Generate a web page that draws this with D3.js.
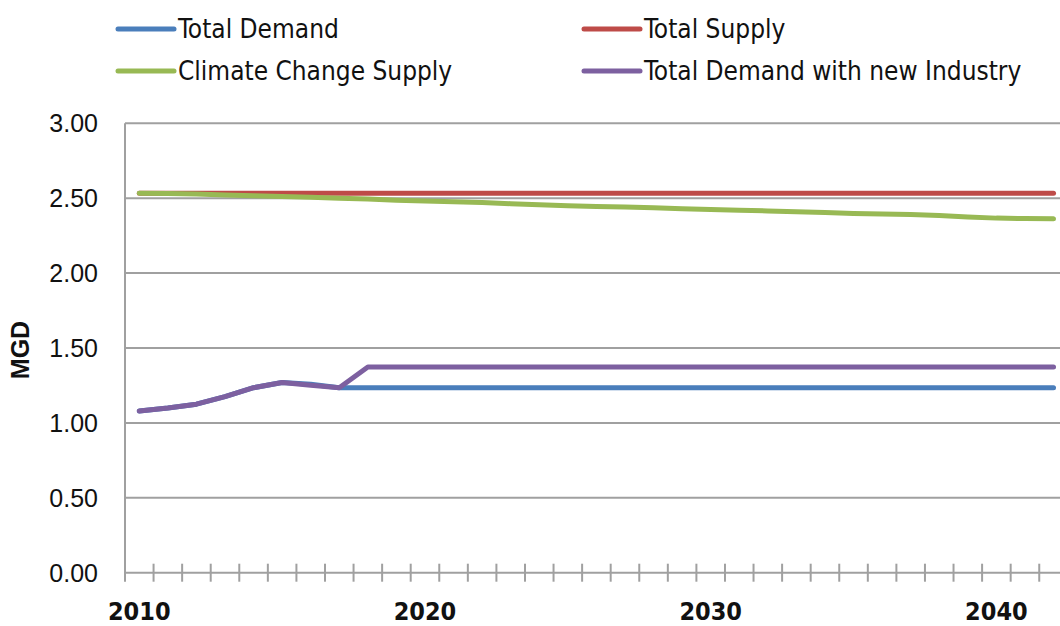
<!DOCTYPE html>
<html>
<head>
<meta charset="utf-8">
<script src="https://cdn.jsdelivr.net/npm/d3@7"></script>
<style>
  html, body { margin: 0; padding: 0; background: #fff; }
  svg { display: block; }
</style>
</head>
<body>
<svg id="chart" width="1060" height="626"></svg>
<script>
(function() {
    // chart values
    var years = d3.range(2010, 2043);
    var yearLabels = [2010, 2020, 2030, 2040];

    var totalDemand = [1.08, 1.10, 1.125, 1.175, 1.235, 1.27, 1.258, 1.235, 1.235, 1.235,
        1.235, 1.235, 1.235, 1.235, 1.235, 1.235, 1.235, 1.235, 1.235, 1.235,
        1.235, 1.235, 1.235, 1.235, 1.235, 1.235, 1.235, 1.235, 1.235, 1.235,
        1.235, 1.235, 1.235];
    var totalSupply = [2.533, 2.533, 2.533, 2.533, 2.533, 2.533, 2.533, 2.533, 2.533, 2.533,
        2.533, 2.533, 2.533, 2.533, 2.533, 2.533, 2.533, 2.533, 2.533, 2.533,
        2.533, 2.533, 2.533, 2.533, 2.533, 2.533, 2.533, 2.533, 2.533, 2.533,
        2.533, 2.533, 2.533];
    var climateSupply = [2.533, 2.531, 2.528, 2.522, 2.516, 2.511, 2.506, 2.500, 2.494, 2.487,
        2.482, 2.477, 2.472, 2.463, 2.456, 2.450, 2.445, 2.441, 2.436, 2.430,
        2.424, 2.419, 2.415, 2.410, 2.404, 2.398, 2.394, 2.391, 2.384, 2.375,
        2.367, 2.364, 2.362];
    var demandIndustry = [1.08, 1.10, 1.125, 1.175, 1.235, 1.27, 1.252, 1.235, 1.373, 1.373,
        1.373, 1.373, 1.373, 1.373, 1.373, 1.373, 1.373, 1.373, 1.373, 1.373,
        1.373, 1.373, 1.373, 1.373, 1.373, 1.373, 1.373, 1.373, 1.373, 1.373,
        1.373, 1.373, 1.373];

    var seriesNames = ["Total Demand", "Total Supply", "Climate Change Supply", "Total Demand with new Industry"];
    var seriesValues = [totalDemand, totalSupply, climateSupply, demandIndustry];
    var seriesColors = ["#4a7ebb", "#be4b48", "#98b954", "#7d60a0"];

    var left = 125, top = 123.3, bottom = 572.7, band = 28.57;

    const svg = d3.select("#chart");

    var x = d3.scaleBand()
        .domain(years)
        .range([left, left + years.length * band])
        .padding(0);

    var y = d3.scaleLinear()
        .domain([0, 3])
        .range([bottom, top]);

    var fmt = d3.format(".2f");

    // gridlines
    svg.append("g")
        .selectAll("line")
        .data(y.ticks(6))
        .join("line")
            .attr("x1", left)
            .attr("x2", 1060)
            .attr("y1", d => y(d))
            .attr("y2", d => y(d))
            .style("stroke", "#a0a0a0")
            .style("stroke-width", 2);

    // y axis line
    svg.append("line")
        .attr("x1", left).attr("x2", left)
        .attr("y1", y(3)).attr("y2", y(0) + 9)
        .style("stroke", "#a0a0a0")
        .style("stroke-width", 2);

    // category tick marks on the x axis
    var tickPos = years.map(d => x(d)).concat([x.range()[1]]);
    svg.append("g")
        .selectAll("line")
        .data(tickPos.slice(1))
        .join("line")
            .attr("x1", d => d).attr("x2", d => d)
            .attr("y1", y(0) - 9).attr("y2", y(0) + 9)
            .style("stroke", "#a0a0a0")
            .style("stroke-width", 2);

    // y labels
    svg.append("g")
        .selectAll("text")
        .data(y.ticks(6))
        .join("text")
            .attr("x", 98)
            .attr("y", d => y(d))
            .attr("dy", "0.36em")
            .attr("text-anchor", "end")
            .style("font-family", "'Liberation Sans', Arial, sans-serif")
            .style("font-size", "25px")
            .style("fill", "#111")
            .text(d => fmt(d));

    // x labels
    svg.append("g")
        .selectAll("text")
        .data(yearLabels)
        .join("text")
            .attr("x", d => x(d) + x.bandwidth() / 2)
            .attr("y", 620)
            .attr("text-anchor", "middle")
            .style("font-family", "'DejaVu Sans Condensed', 'DejaVu Sans', sans-serif")
            .style("font-weight", "bold")
            .style("font-size", "25px")
            .style("fill", "#111")
            .text(d => d);

    // y title
    svg.append("text")
        .attr("transform", "translate(29,350) rotate(-90)")
        .attr("text-anchor", "middle")
        .style("font-family", "'Liberation Sans', Arial, sans-serif")
        .style("font-weight", "bold")
        .style("font-size", "25px")
        .style("fill", "#111")
        .text("MGD");

    // series lines
    var line = d3.line()
        .x((d, i) => x(years[i]) + x.bandwidth() / 2)
        .y(d => y(d));

    svg.append("g")
        .selectAll("path")
        .data(seriesValues)
        .join("path")
            .attr("d", d => line(d))
            .style("fill", "none")
            .style("stroke", (d, i) => seriesColors[i])
            .style("stroke-width", 5)
            .style("stroke-linecap", "round")
            .style("stroke-linejoin", "round");

    // legend
    var legendPos = [[118, 29], [584, 29], [118, 71], [584, 71]];
    var legend = svg.append("g")
        .selectAll("g")
        .data(seriesNames)
        .join("g")
            .attr("transform", (d, i) => `translate(${legendPos[i][0]},${legendPos[i][1]})`);

    legend.append("line")
        .attr("x1", 0).attr("x2", 56)
        .attr("y1", 0).attr("y2", 0)
        .style("stroke", (d, i) => seriesColors[i])
        .style("stroke-width", 5)
        .style("stroke-linecap", "round");

    legend.append("text")
        .attr("x", 60)
        .attr("dy", "0.34em")
        .style("font-family", "'DejaVu Sans Condensed', 'DejaVu Sans', sans-serif")
        .style("font-size", "26px")
        .style("fill", "#111")
        .text(d => d);
})();
</script>
</body>
</html>
